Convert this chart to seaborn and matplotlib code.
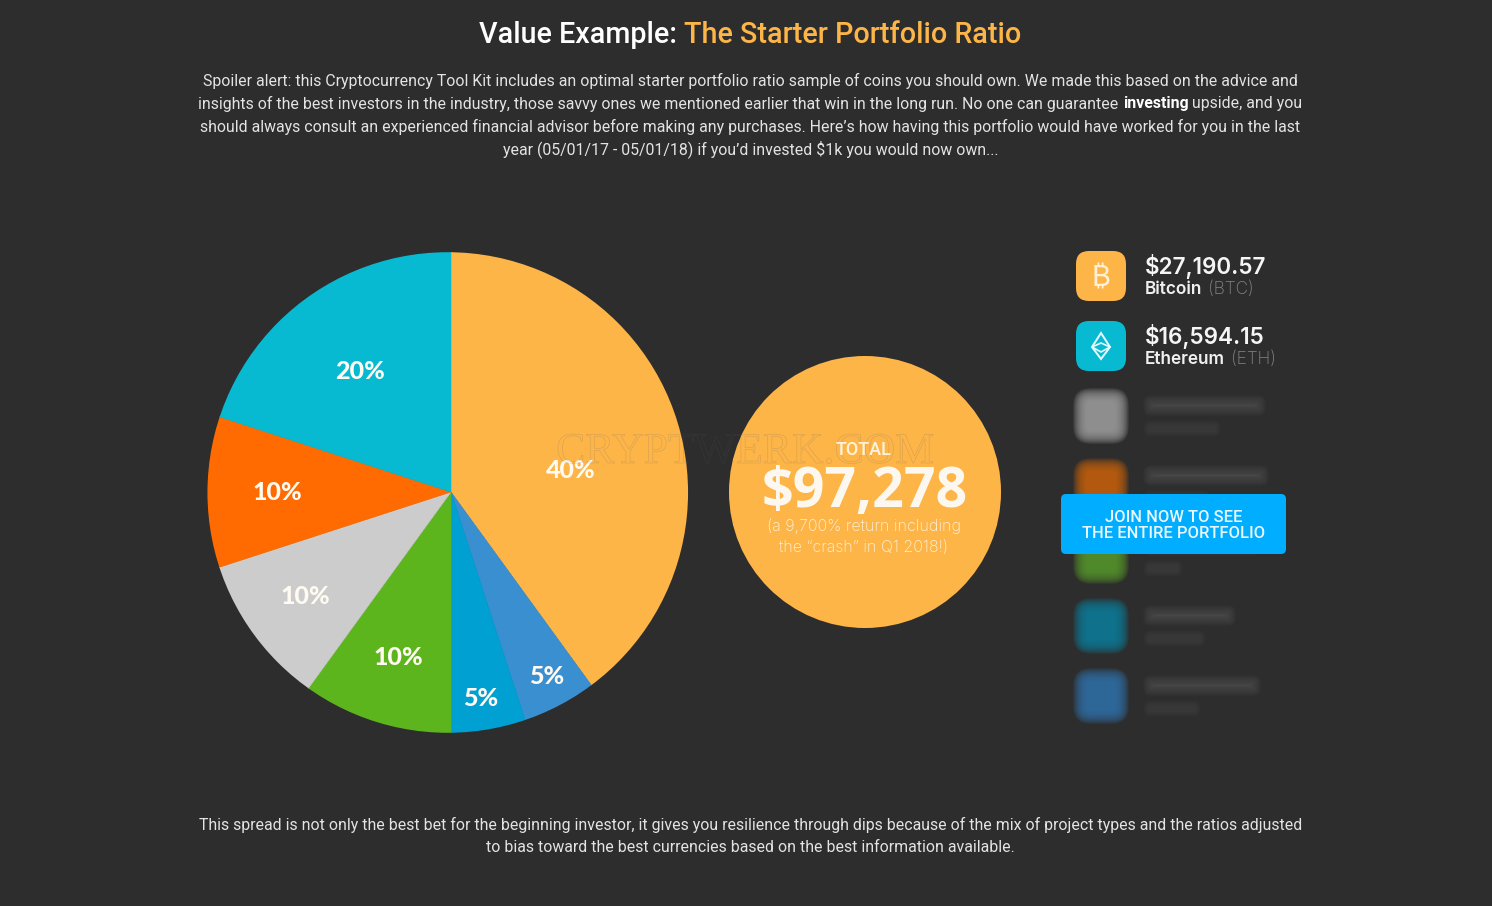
import matplotlib
matplotlib.use("Agg")
import matplotlib.pyplot as plt
import matplotlib.patheffects as pe
from matplotlib.patches import Circle, FancyBboxPatch, Polygon
import seaborn as sns

BG = "#2d2d2d"
ORANGE = "#fdb548"

shares = [40, 5, 5, 10, 10, 10, 20]
share_labels = ["40%", "5%", "5%", "10%", "10%", "10%", "20%"]
slice_colors = ["#fdb548", "#3a8fd0", "#00a0d2", "#5db51e", "#cccccc", "#ff6b00", "#08bad1"]

title_parts = ["Value Example: ", "The Starter Portfolio Ratio"]
intro_lines = [
    "Spoiler alert: this Cryptocurrency Tool Kit includes an optimal starter portfolio ratio sample of coins you should own. We made this based on the advice and",
    "insights of the best investors in the industry, those savvy ones we mentioned earlier that win in the long run. No one can guarantee |investing| upside, and you",
    "should always consult an experienced financial advisor before making any purchases. Here\u2019s how having this portfolio would have worked for you in the last",
    "year (05/01/17 - 05/01/18) if you\u2019d invested $1k you would now own...",
]
outro_lines = [
    "This spread is not only the best bet for the beginning investor, it gives you resilience through dips because of the mix of project types and the ratios adjusted",
    "to bias toward the best currencies based on the best information available.",
]
coin_values = ["$27,190.57", "$16,594.15"]
coin_names = ["Bitcoin", "Ethereum"]
coin_tickers = ["(BTC)", "(ETH)"]
hidden_colors = ["#a0a0a0", "#c8640f", "#5a9a2a", "#0f7f9c", "#2f73aa"]
hidden_widths = [115, 118, 110, 85, 110]
hidden_name_widths = [70, 60, 32, 55, 50]

sns.set_theme(style="dark", rc={"figure.facecolor": BG, "axes.facecolor": BG, "savefig.facecolor": BG})
plt.rcParams["font.family"] = ["Roboto", "DejaVu Sans"]

fig = plt.figure(figsize=(14.92, 9.06), dpi=100)

# overlay in pixel coords for everything that is not the pie
ax = fig.add_axes([0, 0, 1, 1], zorder=1)
ax.set_xlim(0, 1492)
ax.set_ylim(906, 0)
ax.axis("off")
ax.patch.set_alpha(0)


def row(y, parts, size, x_center=750.5):
    # parts = (text, color, weight), centred together as one line
    rend = fig.canvas.get_renderer()
    items = [ax.text(0, y, t, color=c, fontsize=size, fontweight=w, va="center", ha="left")
             for t, c, w in parts]
    widths = []
    for it, (t, c, w) in zip(items, parts):
        # trailing spaces are not measured, so pad with a dot and take it off
        probe = ax.text(0, 0, t + ".", fontsize=size, fontweight=w)
        dot = ax.text(0, 0, ".", fontsize=size, fontweight=w)
        widths.append(probe.get_window_extent(rend).width - dot.get_window_extent(rend).width)
        probe.remove()
        dot.remove()
    x = x_center - sum(widths) / 2
    for it, wd in zip(items, widths):
        it.set_x(x)
        x += wd


def soft_box(x, y, w, h, color, alpha=0.1, steps=20, blur=7.0):
    # stacked translucent boxes stand in for the css blur
    for i in range(steps):
        g = blur * (1 - 2 * i / (steps - 1))
        ax.add_patch(FancyBboxPatch((x - g, y - g), w + 2 * g, h + 2 * g,
                                    boxstyle=f"round,pad=0,rounding_size={max(min(w, h) * 0.25 + g, 1)}",
                                    fc=color, ec="none", alpha=alpha))


# header
row(35, [(title_parts[0], "white", "medium"), (title_parts[1], ORANGE, "medium")], 20.7)
for i, line in enumerate(intro_lines):
    a = line.split("|")
    parts = [(a[0], "#e3e3e3", "normal")]
    if len(a) > 1:
        parts += [(a[1], "white", "bold"), (a[2], "#e3e3e3", "normal")]
    row(80.5 + 23 * i, parts, 11.42)
for i, line in enumerate(outro_lines):
    row(824.5 + 23 * i, [(line, "#e3e3e3", "normal")], 11.42)

# pie: wedges meet at x=451 but the outline is centred a little left of that,
# so draw them oversized and clip to the outline circle
pie_ax = fig.add_axes([0, 0, 1, 1], zorder=0)
wedges, texts = pie_ax.pie(shares, colors=slice_colors, startangle=90, counterclock=False,
                           center=(451, 906 - 492), radius=250, frame=True,
                           labels=share_labels, labeldistance=0.5,
                           wedgeprops={"linewidth": 0},
                           textprops={"color": "#fffaf2", "fontsize": 18, "fontweight": "black",
                                      "family": "Lato", "ha": "center", "va": "center"})
pie_ax.set_xlim(0, 1492)
pie_ax.set_ylim(0, 906)
pie_ax.axis("off")
outline = Circle((447.75, 906 - 492.5), 240.3, transform=pie_ax.transData)
for w, c in zip(wedges, slice_colors):
    w.set_edgecolor(c)  # hides the hairline seams between wedges
    w.set_linewidth(0.4)
    w.set_clip_on(True)  # pie() turns clipping off
    w.set_clip_path(outline)
# labels sit off the geometric middle in the reference
label_spots = [(570.5, 471), (546.5, 676), (481, 698), (398, 657.5), (305, 596), (277, 492.5), (360, 371.5)]
for t, (lx, ly) in zip(texts, label_spots):
    t.set_position((lx, 906 - ly))

# total circle
ax.add_patch(Circle((865, 492), 136, fc=ORANGE, ec="none"))

# watermark, under the circle's own text
ax.text(745, 452, "CRYPTWERK.COM", color=(0, 0, 0, 0), fontsize=31.5, family="Liberation Serif", ha="center", va="center",
        path_effects=[pe.withStroke(linewidth=0.5, foreground=(0.36, 0.36, 0.42, 0.2))])

ax.text(864, 450, "TOTAL", color="#fff3dd", fontsize=13, fontweight="medium", ha="center", va="center")
ax.text(864.5, 492, "$97,278", color="#fdf8ef", fontsize=40, fontweight="bold", family="Open Sans", ha="center", va="center")
ax.text(864, 526, "(a 9,700% return including", color="#fff1d8", fontsize=11.5, family="Inter", fontweight="light", ha="center", va="center")
ax.text(864, 547, "the \u201ccrash\u201d in Q1 2018!)", color="#fff1d8", fontsize=11.5, family="Inter", fontweight="light", ha="center", va="center")

# visible coins
icon_x = 1076
for i in range(2):
    y0 = 251 + 70 * i
    ax.add_patch(FancyBboxPatch((icon_x, y0), 50, 50, boxstyle="round,pad=0,rounding_size=13",
                                fc=[ORANGE, "#08bad1"][i], ec="none"))
    ax.text(1145, y0 + 15.6, coin_values[i], color="#f5f5f5", fontsize=16.2, fontweight="semibold", family="Inter", va="center")
    name = ax.text(1145, y0 + 38, coin_names[i], color="#f0f0f0", fontsize=12.4, fontweight="semibold", family="Inter", va="center")
    end = name.get_window_extent(fig.canvas.get_renderer()).x1
    ax.text(end + 6, y0 + 38, coin_tickers[i], color="#858585", fontsize=12.4, fontweight="light", family="Inter", va="center")

ax.text(1101, 279, "\u20bf", color="#fff1d8", fontsize=21, family=["Inter", "Noto Sans", "Roboto", "Open Sans", "Lato"], ha="center", va="center")
ax.add_patch(Polygon([(1101, 333), (1110, 347), (1101, 359), (1092, 347)], closed=True, fc="none", ec="#e6fbff", lw=1.4))
ax.plot([1092, 1101, 1110], [347, 343, 347], color="#e6fbff", lw=1.2)
ax.plot([1092, 1101, 1110], [347, 352, 347], color="#e6fbff", lw=1.2)

# blurred coins behind the paywall
for i, c in enumerate(hidden_colors):
    y0 = 391 + 70 * i
    soft_box(icon_x + 4, y0 + 4, 42, 42, c, alpha=0.09, steps=24, blur=7)
    soft_box(1149, y0 + 10, hidden_widths[i] - 4, 9, "#5a5a5a", alpha=0.05, steps=24, blur=6)
    soft_box(1149, y0 + 35, hidden_name_widths[i] - 4, 5, "#505050", alpha=0.04, steps=24, blur=6)

# button
ax.add_patch(FancyBboxPatch((1061, 494), 225, 60, boxstyle="round,pad=0,rounding_size=5", fc="#00adff", ec="none", zorder=5))
ax.text(1174, 517, "JOIN NOW TO SEE", color="#e9f8ff", fontsize=11.9, fontweight="medium", ha="center", va="center", zorder=6)
ax.text(1174, 533, "THE ENTIRE PORTFOLIO", color="#e9f8ff", fontsize=11.9, fontweight="medium", ha="center", va="center", zorder=6)

fig.savefig("out.png", dpi=100)
